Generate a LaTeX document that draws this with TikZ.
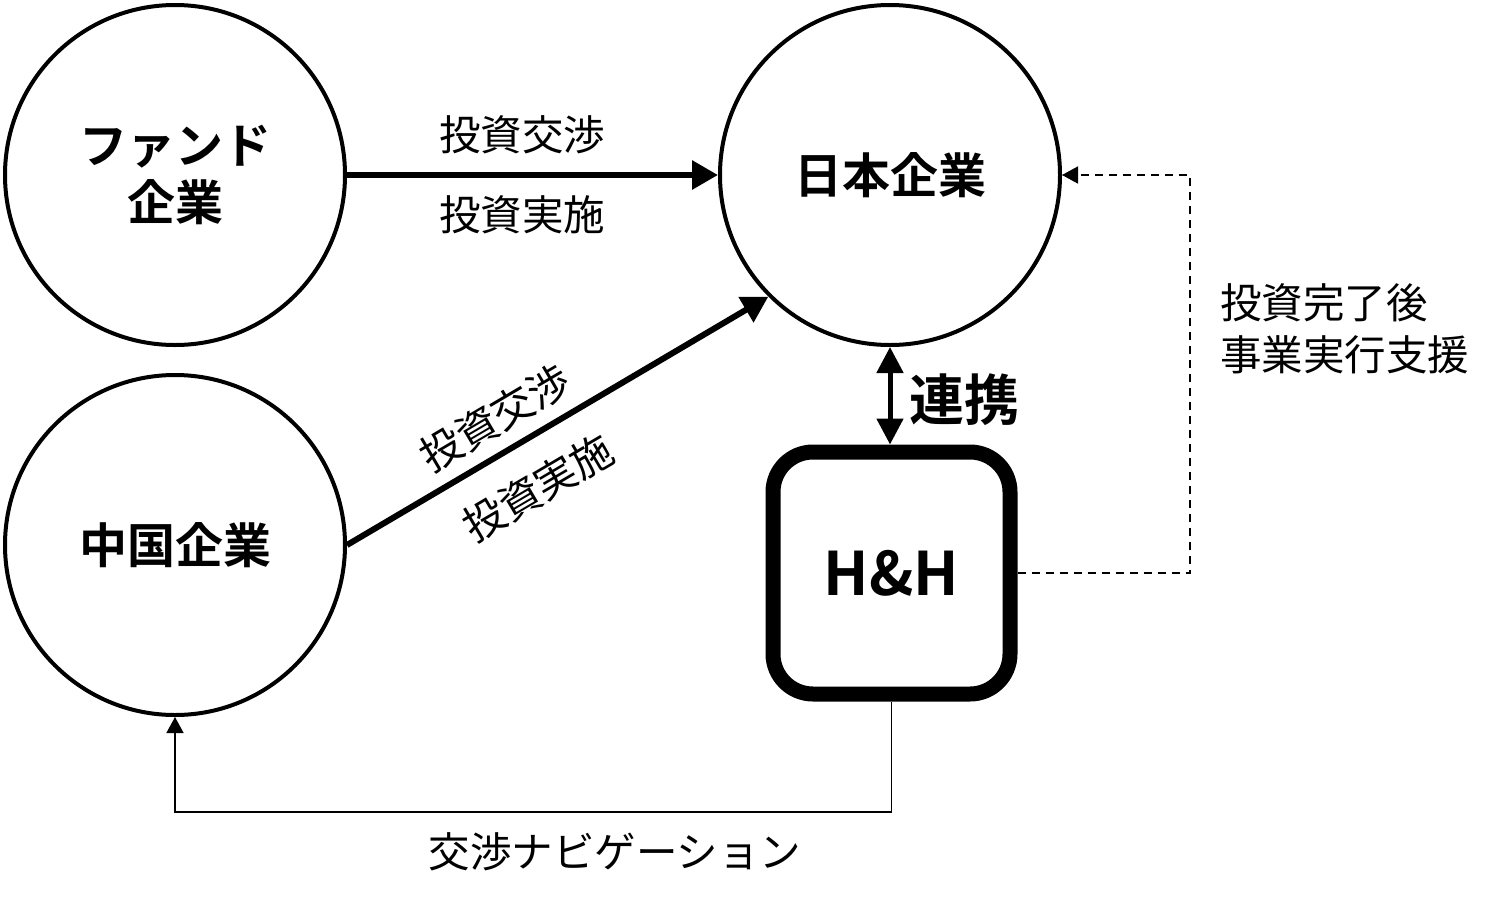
\documentclass[tikz,border=0pt]{standalone}
\usepackage{fontspec}
\setmainfont{Noto Sans CJK JP}
\newfontfamily\jpbold{Noto Sans CJK JP Bold}
\usetikzlibrary{arrows.meta}
\tikzset{
  corp/.style={circle,draw,line width=4pt,minimum size=340pt,inner sep=0pt,
    align=center,font=\jpbold\fontsize{48}{57}\selectfont},
  hhbox/.style={rectangle,draw,line width=15pt,rounded corners=40pt,
    minimum width=237pt,minimum height=242pt,inner sep=0pt,
    font=\jpbold\fontsize{60}{64}\selectfont},
  lbl/.style={inner sep=0pt,font=\fontsize{41.5}{52}\selectfont},
  thickarrow/.style={line width=6pt,-{Triangle[length=26pt,width=28pt]}},
  linkarrow/.style={line width=5pt,{Triangle[length=26pt,width=26pt]}-{Triangle[length=26pt,width=26pt]}},
  thinarrow/.style={line width=1.6pt,-{Triangle[length=16pt,width=17pt]}},
  dasharrow/.style={line width=1.6pt,dash pattern=on 8pt off 6pt,-{Triangle[length=16pt,width=17pt]}},
}
\begin{document}
\begin{tikzpicture}[x=1pt,y=-1pt]
\useasboundingbox (0,0) rectangle (1500,903);
\node[corp] (fund) at (175,175) {ファンド\\企業};
\node[corp] (japan) at (890,175) {日本企業};
\node[corp] (china) at (175,545) {中国企業};
\node[hhbox] (hh) at (891.5,573) {H\&H};

\draw[thickarrow] (fund) -- (japan);
\node[lbl] (t1) at (522,135) {投資交渉};
\node[lbl] (t2) at (522,215) {投資実施};

\draw[thickarrow] (china.east) -- (japan.225);
\node[lbl,rotate=30.5] (d1) at (495,418) {投資交渉};
\node[lbl,rotate=30.5] (d2) at (538,488) {投資実施};

\draw[linkarrow] (japan.south) -- (japan.south |- hh.north);
\node[inner sep=0pt,font=\jpbold\fontsize{55}{60}\selectfont] (link) at (964,400) {連携};

\coordinate (dashx) at (1190,0);
\draw[dasharrow] (hh.east) -- (hh.east -| dashx) |- (japan.east);
\node[lbl,align=left,anchor=west] (after) at (1220,329) {投資完了後\\事業実行支援};

\coordinate (navy) at (0,812);
\draw[thinarrow] (hh.south) -- (hh.south |- navy) -| (china.south);
\node[lbl] (nav) at (615,852) {交渉ナビゲーション};
\end{tikzpicture}
\end{document}
